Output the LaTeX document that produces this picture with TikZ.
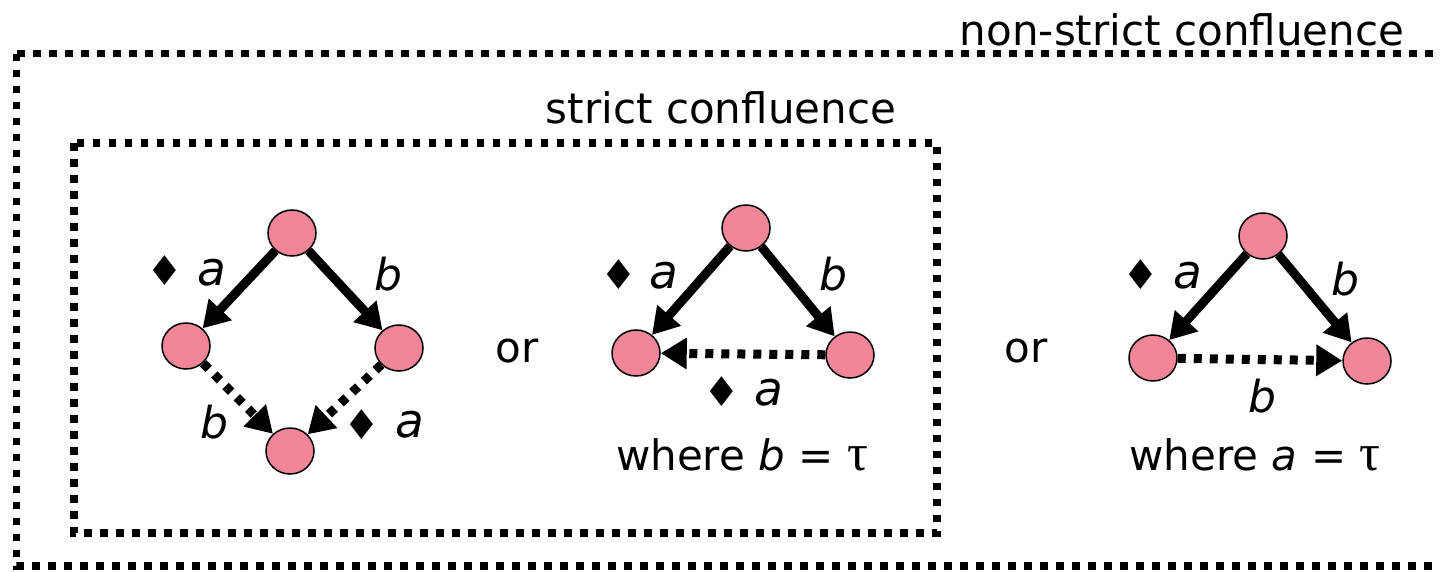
\documentclass[tikz,border=0pt]{standalone}
\usepackage{fontspec}
\setmainfont{DejaVu Sans}
\newfontfamily\symfont{Liberation Serif}
\usetikzlibrary{arrows.meta,shapes.geometric}
\definecolor{nodepink}{RGB}{240,134,152}
\begin{document}
\begin{tikzpicture}[x=1pt,y=-1pt,
  st/.style={ellipse, draw=black, line width=1.5pt, fill=nodepink, minimum width=48pt, minimum height=46pt, inner sep=0pt},
  solidarr/.style={line width=9pt, -{Triangle[length=26pt,width=30pt]}},
  dotarr/.style={line width=9pt, dash pattern=on 8pt off 8pt, -{Triangle[length=26pt,width=30pt]}},
  dotbox/.style={line width=7.5pt, dash pattern=on 7.5pt off 8.5pt},
  txt/.style={font=\fontsize{42}{48}\selectfont, inner sep=0pt, anchor=base},
  lbl/.style={font=\fontsize{44}{50}\selectfont\itshape, inner sep=0pt, anchor=base},
  lbla/.style={font=\fontsize{47}{53}\selectfont\itshape, inner sep=0pt, anchor=base},
  dia/.style={font=\fontsize{41}{47}\selectfont, inner sep=0pt, anchor=center},
]
\useasboundingbox (0,0) rectangle (1440,571);
\clip (0,0) rectangle (1440,571);
% boxes
\draw[dotbox] (16.5,53.5) rectangle (1460,566);
\draw[dotbox] (74,143) rectangle (937,533);
\node[txt] (nsc) at (1182,45) {non-strict confluence};
\node[txt] (sc) at (721,123) {strict confluence};
% diamond
\node[st] (t1) at (292,233) {};
\node[st] (l1) at (186,346) {};
\node[st] (r1) at (399,348) {};
\node[st] (b1) at (290,451) {};
\draw[solidarr] (t1) -- (l1);
\draw[solidarr] (t1) -- (r1);
\draw[dotarr] (l1) -- (b1);
\draw[dotarr] (r1) -- (b1);
\node[dia] (d1a) at (164.5,271) {♦};
\node[lbla] (la1) at (212,285) {a};
\node[lbl] (lb1) at (388,290) {b};
\node[lbl] (lb1b) at (214,438) {b};
\node[dia] (d1b) at (362,425) {♦};
\node[lbla] (la1b) at (410,437) {a};
% or
\node[txt] (or1) at (517,362) {or};
\node[txt] (or2) at (1026,362) {or};
% triangle 1
\node[st] (t2) at (746,228) {};
\node[st] (l2) at (636,353) {};
\node[st] (r2) at (850,355) {};
\draw[solidarr] (t2) -- (l2);
\draw[solidarr] (t2) -- (r2);
\draw[dotarr] (r2) -- (l2);
\node[dia] (d2a) at (619,275) {♦};
\node[lbla] (la2) at (664,288) {a};
\node[lbl] (lb2) at (833,290) {b};
\node[dia] (d2b) at (722,392) {♦};
\node[lbla] (la2b) at (769,405) {a};
\node[txt] (w2) at (742,470) {where \textit{b} = {\symfont\fontsize{52}{56}\selectfont τ}};
% triangle 2
\node[st] (t3) at (1263,236) {};
\node[st] (l3) at (1153,358) {};
\node[st] (r3) at (1367,361) {};
\draw[solidarr] (t3) -- (l3);
\draw[solidarr] (t3) -- (r3);
\draw[dotarr] (l3) -- (r3);
\node[dia] (d3a) at (1141,275) {♦};
\node[lbla] (la3) at (1188,288) {a};
\node[lbl] (lb3) at (1345,295) {b};
\node[lbl] (lb3b) at (1262,412) {b};
\node[txt] (w3) at (1255,470) {where \textit{a} = {\symfont\fontsize{52}{56}\selectfont τ}};
\end{tikzpicture}
\end{document}
